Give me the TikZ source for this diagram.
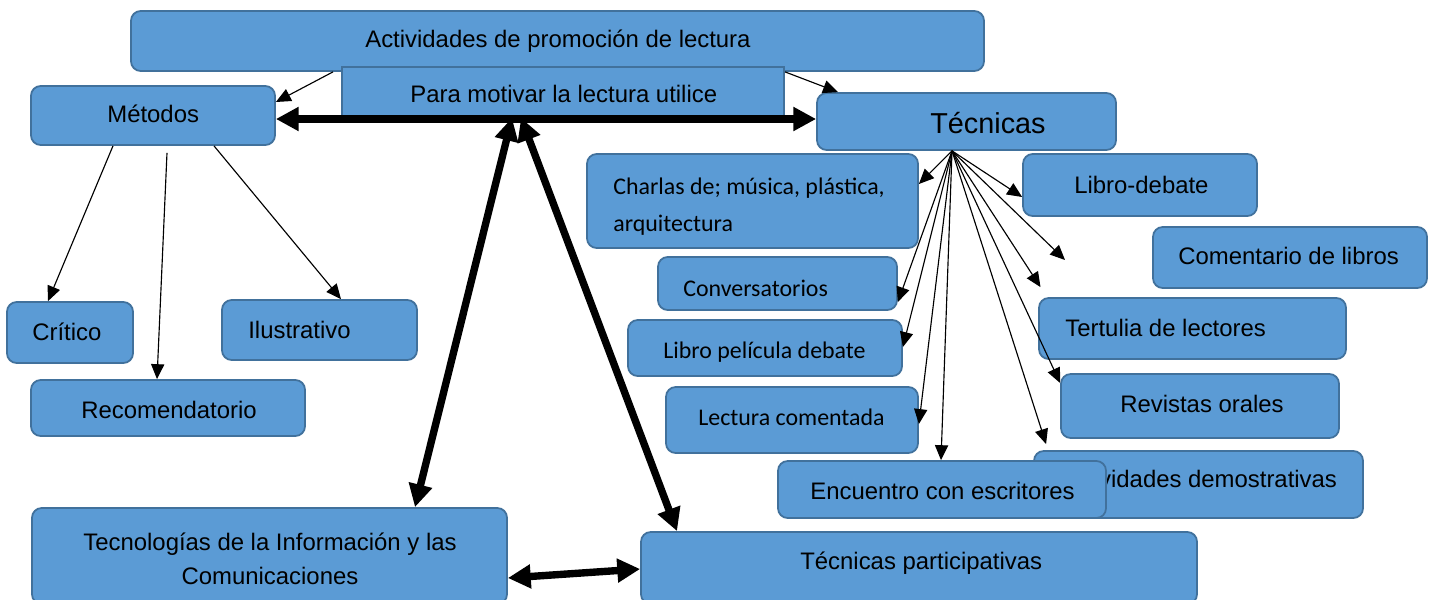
\documentclass[tikz,border=0pt]{standalone}
\usepackage{fontspec}
\setmainfont{Liberation Sans}
\newfontfamily\calibrifont{Carlito}
\usetikzlibrary{arrows.meta,calc}
\definecolor{cajafill}{HTML}{5B9BD5}
\definecolor{cajaline}{HTML}{41719C}
\tikzset{
  caja/.style={draw=cajaline, fill=cajafill, line width=1pt, rounded corners=5.5pt, inner sep=0pt},
  tam/.style 2 args={minimum width=#1*0.02cm, minimum height=#2*0.02cm},
  texto/.style={inner sep=0pt, anchor=base west, font=\fontsize{13.6}{16}\selectfont},
  textocal/.style={texto, font=\calibrifont\fontsize{13.6}{21}\selectfont},
  flecha/.style={line width=0.65pt, -{Triangle[length=8.5pt,width=7.5pt]}},
  flechagruesa/.style={line width=4.2pt, {Triangle[length=13pt,width=13pt]}-{Triangle[length=13pt,width=13pt]}}
}

\begin{document}
\begin{tikzpicture}[x=0.02cm, y=-0.02cm]
      \useasboundingbox (0,0) rectangle (1429,599);
      \node [caja, tam={853}{60}] (act) at (557.5,41) {};
      \node [texto] (act-t) at (365,47) {Actividades de promoción de lectura};
      \node [caja, sharp corners, tam={442}{50}] (motiva) at (563,92) {};
      \node [texto] (motiva-t) at (410,102) {Para motivar la lectura utilice};
      \node [caja, tam={244}{59}] (metodos) at (153,115.5) {};
      \node [texto] (metodos-t) at (107,122) {Métodos};
      \node [caja, tam={299}{57}] (tecnicas) at (966.5,121.5) {};
      \node [texto, font=\fontsize{16.4}{19}\selectfont] (tecnicas-t) at (930,133) {Técnicas};
      \node [caja, tam={331}{94}] (charlas) at (752.5,201) {};
      \node [textocal, align=left] (charlas-t) at (613,231) {Charlas de; música, plástica,\\arquitectura};
      \node [caja, tam={234}{62}] (librodebate) at (1140,185) {};
      \node [texto] (librodebate-t) at (1074,193) {Libro-debate};
      \node [caja, tam={274}{61}] (comentario) at (1290,257.5) {};
      \node [texto] (comentario-t) at (1178,264) {Comentario de libros};
      \node [caja, tam={239}{53}] (conversa) at (777.5,283.5) {};
      \node [textocal] (conversa-t) at (683,296) {Conversatorios};
      \node [caja, tam={274}{56}] (pelicula) at (765,348) {};
      \node [textocal] (pelicula-t) at (663,358) {Libro película debate};
      \node [caja, tam={252}{66}] (lectura) at (792,420) {};
      \node [textocal] (lectura-t) at (698,425) {Lectura comentada};
      \node [caja, tam={307}{61}] (tertulia) at (1192.5,328.5) {};
      \node [texto] (tertulia-t) at (1065,336) {Tertulia de lectores};
      \node [caja, tam={278}{64}] (revistas) at (1200,406) {};
      \node [texto] (revistas-t) at (1120,412) {Revistas orales};
      \node [caja, tam={329}{67}] (demos) at (1198.5,484.5) {};
      \node [texto] (demos-t) at (1059,487) {Actividades demostrativas};
      \node [caja, tam={328}{57}] (encuentro) at (942,489.5) {};
      \node [texto] (encuentro-t) at (810,499) {Encuentro con escritores};
      \node [caja, tam={126}{61}] (critico) at (70,332.5) {};
      \node [texto] (critico-t) at (32,340) {Crítico};
      \node [caja, tam={195}{60}] (ilustra) at (319.5,330) {};
      \node [texto] (ilustra-t) at (248,338) {Ilustrativo};
      \node [caja, tam={274}{56}] (recomienda) at (168,408) {};
      \node [texto] (recomienda-t) at (81,418) {Recomendatorio};
      \node [caja, tam={475}{96}] (tic) at (269.5,556) {};
      \node [texto, anchor=base, align=center, font=\fontsize{13.6}{19.3}\selectfont] (tic-t) at (270,584) {Tecnologías de la Información y las\\Comunicaciones};
      \node [caja, tam={556}{72}] (partic) at (919,568) {};
      \node [texto] (partic-t) at (800,569) {Técnicas participativas};

      \draw [flecha] (333,0 |- act.south) -- (metodos.east |- 0,102);
      \draw [flecha] (785,0 |- act.south) -- (838,0 |- tecnicas.north);
      \draw [flechagruesa] (metodos.east |- 0,119) -- (tecnicas.west |- 0,119);
      \draw [flechagruesa] (512,0 |- motiva.south) -- (415,0 |- tic.north);
      \draw [flechagruesa] (521,0 |- motiva.south) -- (677,0 |- partic.north);
      \draw [flechagruesa] (tic.east |- 0,578) -- (partic.west |- 0,569);

      \draw [flecha] (113,0 |- metodos.south) -- (48,0 |- critico.north);
      \draw [flecha] ($(167,0 |- metodos.south)+(0,7)$) -- (157,0 |- recomienda.north);
      \draw [flecha] (214,0 |- metodos.south) -- (341,0 |- ilustra.north);

      \coordinate (abanico) at (952,0 |- tecnicas.south);
      \coordinate (suelta) at (1065,260);
      \draw [flecha] (abanico) -- (charlas.east |- 0,184);
      \draw [flecha] (abanico) -- (librodebate.west |- 0,197);
      \draw [flecha] (abanico) -- (suelta);
      \draw [flecha, shorten >=6.8pt] (abanico) -- (1047,0 |- tertulia.north);
      \draw [flecha] (abanico) -- (conversa.east |- 0,302);
      \draw [flecha] (abanico) -- (pelicula.east |- 0,347);
      \draw [flecha] (abanico) -- (lectura.east |- 0,424);
      \draw [flecha] (abanico) -- (941,0 |- encuentro.north);
      \draw [flecha] (abanico) -- (revistas.west |- 0,383);
      \draw [flecha, shorten >=3.6pt] (abanico) -- (1048,0 |- demos.north);
\end{tikzpicture}
\end{document}
